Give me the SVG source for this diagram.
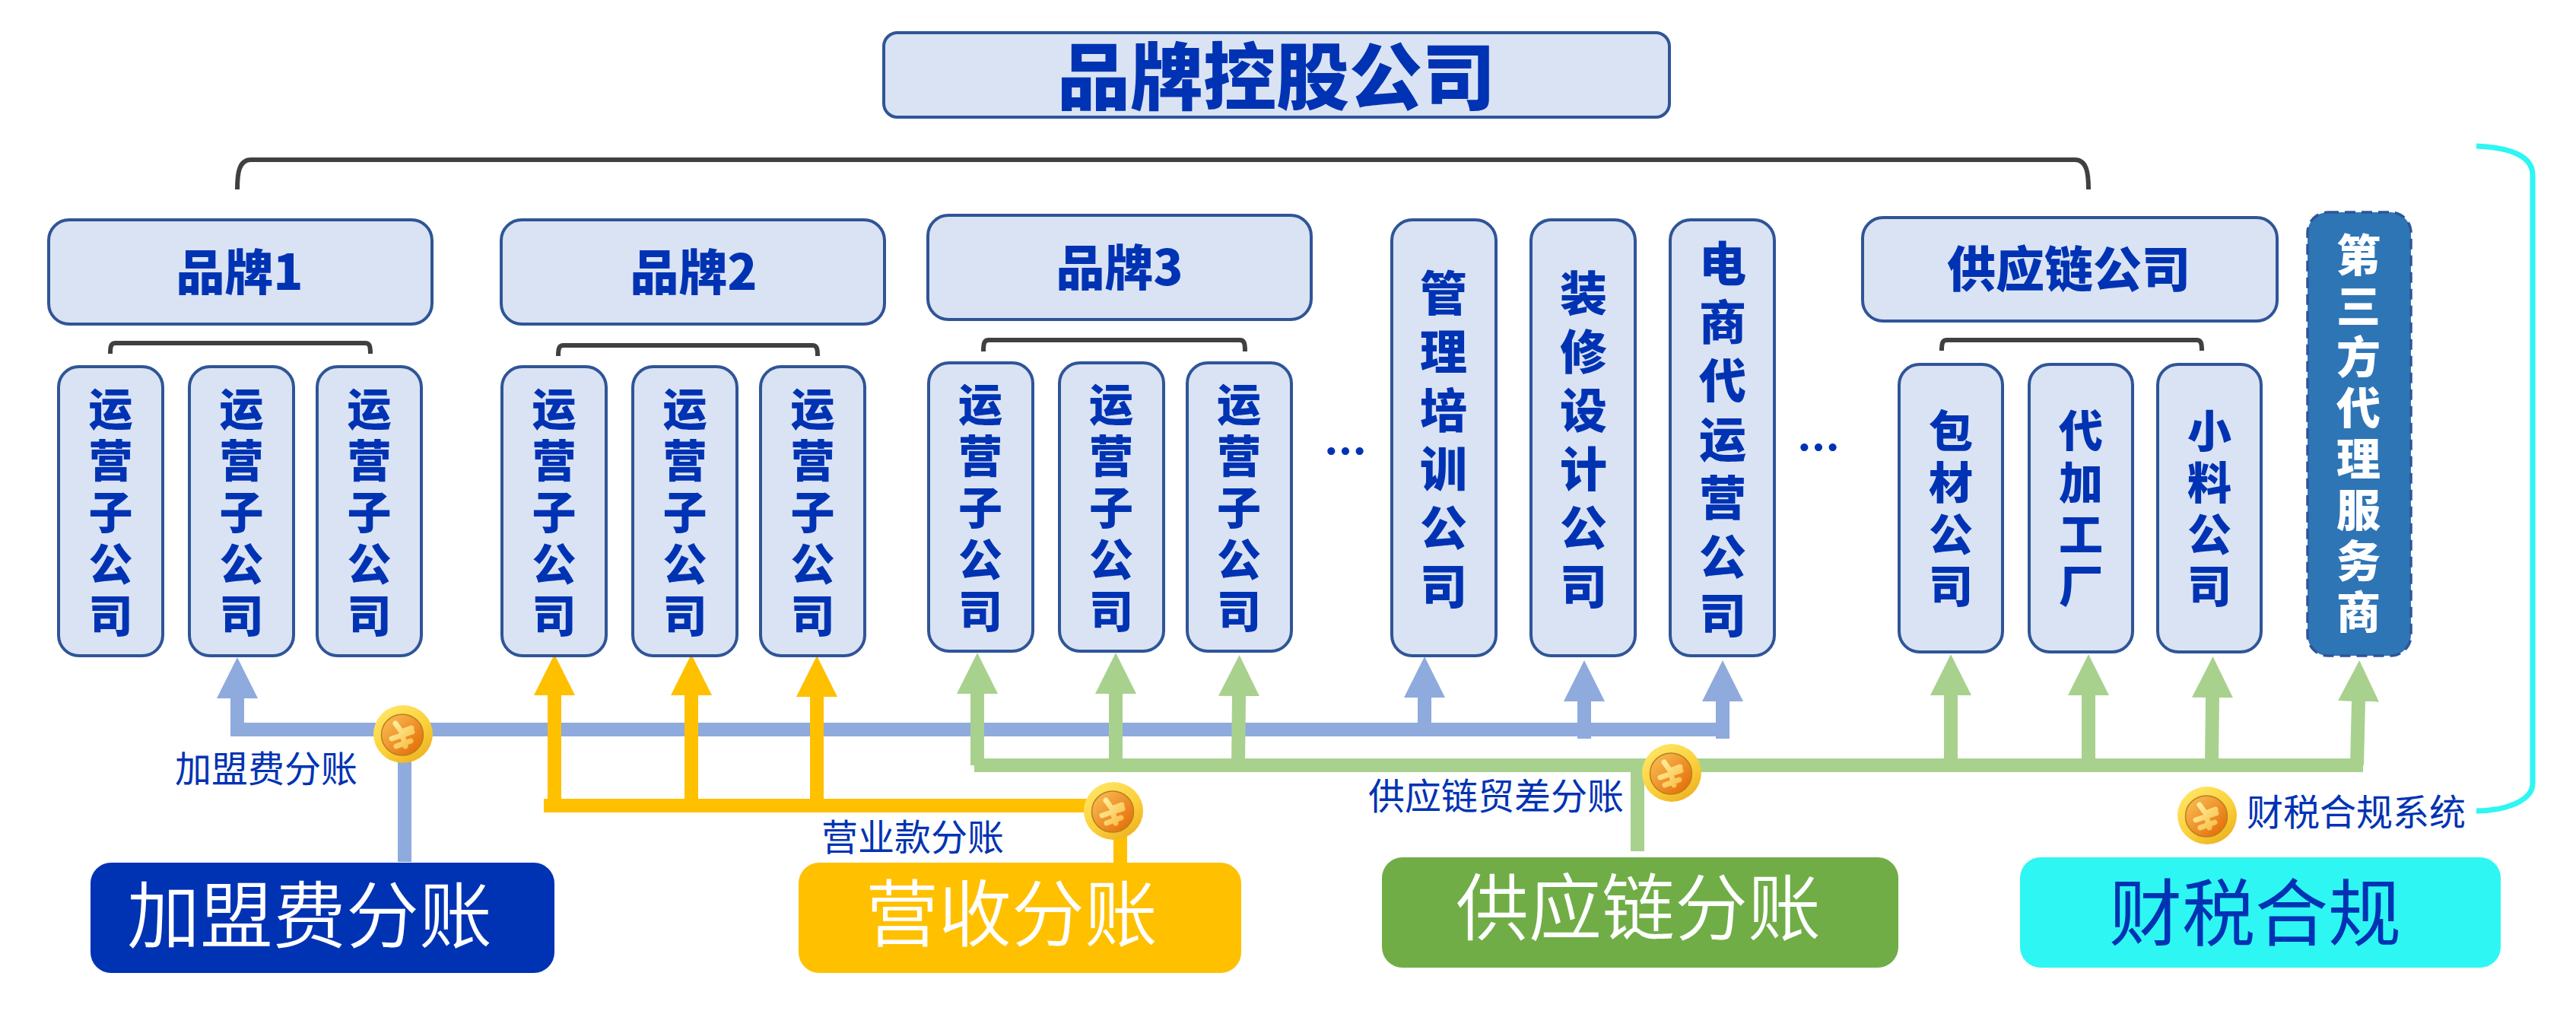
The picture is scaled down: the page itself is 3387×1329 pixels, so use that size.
<svg xmlns="http://www.w3.org/2000/svg" width="3387" height="1329" viewBox="0 0 3387 1329">
<style>
text{font-family:"Noto Sans CJK SC","Microsoft YaHei","Liberation Sans",sans-serif;text-anchor:middle;dominant-baseline:central;fill:#0033B3}
.box{fill:#DAE3F3;stroke:#2F5597;stroke-width:4}
.b{font-weight:900}
.h{font-size:64px;font-weight:900}
.v{writing-mode:vertical-rl;text-orientation:upright;font-weight:900;font-size:58px;letter-spacing:10px}
.t{writing-mode:vertical-rl;text-orientation:upright;font-weight:900;font-size:62px;letter-spacing:15px}
.s{font-size:48px}
.p{font-size:96px;font-weight:350}
.w{fill:#fff}
.brk{fill:none;stroke:#404040;stroke-width:6}
.bl{stroke:#8FAADC;stroke-width:18;fill:none}
.ye{stroke:#FFC000;stroke-width:18;fill:none}
.gr{stroke:#A9D18E;stroke-width:18;fill:none}
.abl{marker-end:url(#hb)}
.aye{marker-end:url(#hy)}
.agr{marker-end:url(#hg)}
</style>
<defs>
<marker id="hb" markerUnits="userSpaceOnUse" markerWidth="56" markerHeight="54" refX="1" refY="27" orient="auto"><path d="M0 0L54 27L0 54Z" fill="#8FAADC"/></marker>
<marker id="hy" markerUnits="userSpaceOnUse" markerWidth="56" markerHeight="54" refX="1" refY="27" orient="auto"><path d="M0 0L54 27L0 54Z" fill="#FFC000"/></marker>
<marker id="hg" markerUnits="userSpaceOnUse" markerWidth="56" markerHeight="54" refX="1" refY="27" orient="auto"><path d="M0 0L54 27L0 54Z" fill="#A9D18E"/></marker>
<linearGradient id="gold" x1="0.15" y1="0" x2="0.85" y2="1"><stop offset="0" stop-color="#FFE768"/><stop offset="0.55" stop-color="#FBD03C"/><stop offset="1" stop-color="#EDAE1E"/></linearGradient>
<linearGradient id="ora" x1="0.1" y1="0.1" x2="0.9" y2="0.9"><stop offset="0" stop-color="#F9B950"/><stop offset="1" stop-color="#E46F0A"/></linearGradient>
<linearGradient id="yen" x1="0" y1="0" x2="1" y2="1"><stop offset="0" stop-color="#FFF0A0"/><stop offset="1" stop-color="#F8BE45"/></linearGradient>
<g id="coin">
<ellipse rx="39" ry="38" fill="url(#gold)"/>
<ellipse cx="-1" cy="1" rx="27.500" ry="27" fill="url(#ora)" stroke="#B9801C" stroke-width="1.500"/>
<path d="M-10 -14L-2 -3L11 -8M-15 6L12 -3M-9 16L10 9M-2 -3L3 16" fill="none" stroke="url(#yen)" stroke-width="7" stroke-linecap="round" stroke-linejoin="round"/>
</g>
</defs>

<g id="connectors">
<path class="brk" d="M312 249C312 228 314 210 330 210H2728C2744 210 2746 228 2746 249"/>
<path class="brk" d="M145 465C145 455 146 451 152 451H480C486 451 487 455 487 465"/>
<path class="brk" d="M734 468C734 458 735 454 741 454H1068C1074 454 1075 458 1075 468"/>
<path class="brk" d="M1293 462C1293 451 1294 447 1300 447H1630C1636 447 1637 451 1637 462"/>
<path class="brk" d="M2553 461C2553 451 2554 447 2560 447H2888C2894 447 2895 451 2895 461"/>
<path d="M3256 192C3300 194 3330 205 3330 230V1030C3330 1052 3295 1066 3256 1066" fill="none" stroke="#2EF6F3" stroke-width="7"/>

<g id="flow-blue">
<path class="bl" d="M312 959H2265"/>
<path class="bl" d="M532 1133V965"/>
<path class="bl abl" d="M312 968V917"/>
<path class="bl abl" d="M1873 959V916"/>
<path class="bl abl" d="M2083 971V921"/>
<path class="bl abl" d="M2265 971V921"/>
</g>
<g id="flow-yellow">
<path class="ye" d="M715 1059H1463"/>
<path class="ye" d="M1473 1134V1066"/>
<path class="ye aye" d="M729 1059V913"/>
<path class="ye aye" d="M909 1059V913"/>
<path class="ye aye" d="M1074 1059V915"/>
</g>
<g id="flow-green">
<path class="gr" d="M1281 1006H3107"/>
<path class="gr" d="M2153 1119V1006"/>
<path class="gr agr" d="M1285 1006V911"/>
<path class="gr agr" d="M1467 1006V911"/>
<path class="gr agr" d="M1628 1006L1629 914"/>
<path class="gr agr" d="M2565 1006V913"/>
<path class="gr agr" d="M2746 1006V913"/>
<path class="gr agr" d="M2908 1006L2909 916"/>
<path class="gr agr" d="M3099 1006L3101 921"/>
</g>
</g>

<g id="holding"><rect class="box" x="1162" y="43" width="1033" height="111" rx="18"/><text class="b" x="1678" y="94" font-size="96">品牌控股公司</text></g>

<g id="brand1"><rect class="box" x="64" y="289" width="504" height="137" rx="27"/><text class="h" x="315" y="353">品牌1</text></g>
<g id="brand2"><rect class="box" x="659" y="289" width="504" height="137" rx="27"/><text class="h" x="912" y="353">品牌2</text></g>
<g id="brand3"><rect class="box" x="1220" y="283" width="504" height="137" rx="27"/><text class="h" x="1472" y="347">品牌3</text></g>
<g id="supply"><rect class="box" x="2449" y="286" width="545" height="136" rx="27"/><text class="h" x="2720" y="349">供应链公司</text></g>

<g id="b1-op1"><rect class="box" x="77" y="482" width="137" height="380" rx="27"/><text class="v" x="145.500" y="678">运营子公司</text></g>
<g id="b1-op2"><rect class="box" x="249" y="482" width="137" height="380" rx="27"/><text class="v" x="317.500" y="678">运营子公司</text></g>
<g id="b1-op3"><rect class="box" x="417" y="482" width="137" height="380" rx="27"/><text class="v" x="485.500" y="678">运营子公司</text></g>
<g id="b2-op1"><rect class="box" x="660" y="482" width="137" height="380" rx="27"/><text class="v" x="728.500" y="678">运营子公司</text></g>
<g id="b2-op2"><rect class="box" x="832" y="482" width="137" height="380" rx="27"/><text class="v" x="900.500" y="678">运营子公司</text></g>
<g id="b2-op3"><rect class="box" x="1000" y="482" width="137" height="380" rx="27"/><text class="v" x="1068.500" y="678">运营子公司</text></g>
<g id="b3-op1"><rect class="box" x="1221" y="477" width="137" height="379" rx="27"/><text class="v" x="1289" y="672">运营子公司</text></g>
<g id="b3-op2"><rect class="box" x="1393" y="477" width="137" height="379" rx="27"/><text class="v" x="1461" y="672">运营子公司</text></g>
<g id="b3-op3"><rect class="box" x="1561" y="477" width="137" height="379" rx="27"/><text class="v" x="1629" y="672">运营子公司</text></g>

<g id="dots1"><text class="b" x="1769" y="589" font-size="56">…</text></g>
<g id="mgmt"><rect class="box" x="1830" y="289" width="137" height="573" rx="27"/><text class="t" x="1898" y="585">管理培训公司</text></g>
<g id="deco"><rect class="box" x="2013" y="289" width="137" height="573" rx="27"/><text class="t" x="2082" y="585">装修设计公司</text></g>
<g id="ecom"><rect class="box" x="2196" y="289" width="137" height="573" rx="27"/><text class="t" x="2265" y="585">电商代运营公司</text></g>
<g id="dots2"><text class="b" x="2391" y="584" font-size="56">…</text></g>

<g id="sup1"><rect class="box" x="2497" y="479" width="136" height="378" rx="27"/><text class="v" x="2565" y="673">包材公司</text></g>
<g id="sup2"><rect class="box" x="2668" y="479" width="136" height="378" rx="27"/><text class="v" x="2736" y="673">代加工厂</text></g>
<g id="sup3"><rect class="box" x="2837" y="479" width="136" height="378" rx="27"/><text class="v" x="2905" y="673">小料公司</text></g>
<g id="third"><rect x="3034" y="279" width="136" height="583" rx="27" fill="#2E75B6" stroke="#2F5597" stroke-width="3.500" stroke-dasharray="14 8"/><text class="v w" x="3101" y="574" style="letter-spacing:9px">第三方代理服务商</text></g>

<g id="label-fee"><text class="s" x="350" y="1007">加盟费分账</text></g>
<g id="label-rev"><text class="s" x="1200" y="1097">营业款分账</text></g>
<g id="label-sup"><text class="s" x="1967" y="1043">供应链贸差分账</text></g>
<g id="label-tax"><text class="s" x="3098" y="1064">财税合规系统</text></g>

<g id="coin-fee"><use href="#coin" x="530" y="965"/></g>
<g id="coin-rev"><use href="#coin" x="1464" y="1066"/></g>
<g id="coin-sup"><use href="#coin" x="2198" y="1016"/></g>
<g id="coin-tax"><use href="#coin" x="2902" y="1072"/></g>

<g id="pill-fee"><rect x="119" y="1134" width="610" height="145" rx="27" fill="#0033B3"/><text class="p w" x="407" y="1196">加盟费分账</text></g>
<g id="pill-rev"><rect x="1050" y="1134" width="582" height="145" rx="27" fill="#FFC000"/><text class="p w" x="1330" y="1194">营收分账</text></g>
<g id="pill-sup"><rect x="1817" y="1127" width="679" height="145" rx="27" fill="#70AD47"/><text class="p w" x="2154" y="1186">供应链分账</text></g>
<g id="pill-tax"><rect x="2656" y="1127" width="632" height="145" rx="27" fill="#2EF6F3"/><text class="p" x="2965" y="1193" style="font-weight:400">财税合规</text></g>
</svg>
